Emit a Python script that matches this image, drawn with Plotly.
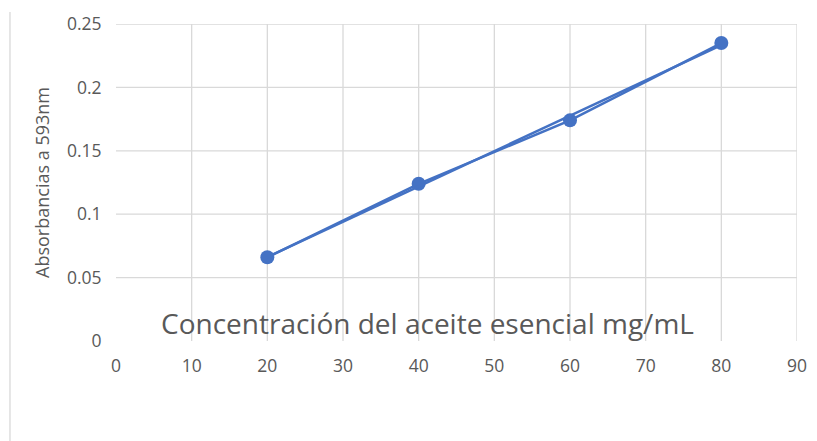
import numpy as np
import plotly.graph_objects as go

# Data
concentracion = [20, 40, 60, 80]
absorbancia = [0.066, 0.124, 0.174, 0.235]
x_ticks = [0, 10, 20, 30, 40, 50, 60, 70, 80, 90]
y_ticks = [0, 0.05, 0.1, 0.15, 0.2, 0.25]
y_tick_text = ["0", "0.05", "0.1", "0.15", "0.2", "0.25"]

BLUE = "#4472C4"
GRID = "#d9d9d9"
TXT = "#595959"
FONT = "Open Sans"

# Linear trendline (least squares, like Excel)
m, b = np.polyfit(concentracion, absorbancia, 1)
trend_x = [min(concentracion), max(concentracion)]
trend_y = [m * v + b for v in trend_x]

fig = go.Figure()
fig.add_trace(go.Scatter(x=concentracion, y=absorbancia, mode="lines+markers",
                         line=dict(color=BLUE, width=2.5),
                         marker=dict(color=BLUE, size=14), showlegend=False))
fig.add_trace(go.Scatter(x=trend_x, y=trend_y, mode="lines",
                         line=dict(color=BLUE, width=2.5), showlegend=False))

shapes = []
for xv in x_ticks[1:]:
    shapes.append(dict(type="line", xref="x", yref="y", x0=xv, x1=xv,
                       y0=y_ticks[0], y1=y_ticks[-1], layer="below",
                       line=dict(color=GRID, width=1.3)))
for yv in y_ticks[1:]:
    shapes.append(dict(type="line", xref="x", yref="y", x0=x_ticks[0], x1=x_ticks[-1],
                       y0=yv, y1=yv, layer="below",
                       line=dict(color=GRID, width=1.3)))
# chart-area left border
shapes.append(dict(type="line", xref="paper", yref="paper", x0=-0.1557, x1=-0.1557,
                   y0=1.038, y1=-0.32, line=dict(color=GRID, width=1.3)))

# page body has an 8px margin, so the figure is sized/offset to compensate
fig.update_layout(
    width=809, height=433,
    margin=dict(l=108, r=20, t=16, b=100),
    paper_bgcolor="white", plot_bgcolor="white",
    font=dict(family=FONT, color=TXT, size=14),
    shapes=shapes,
    xaxis=dict(range=[0, 90], tickvals=x_ticks, showgrid=False, zeroline=False,
               showline=False, ticks="outside", ticklen=9, tickcolor="rgba(0,0,0,0)",
               automargin=False,
               tickfont=dict(size=17.5, color=TXT, family=FONT)),
    yaxis=dict(range=[0, 0.25], tickvals=y_ticks, ticktext=y_tick_text,
               showgrid=False, zeroline=False, showline=False,
               ticks="outside", ticklen=10, tickcolor="rgba(0,0,0,0)",
               automargin="left",
               tickfont=dict(size=17.5, color=TXT, family=FONT),
               title=dict(text="Absorbancias a 593nm", standoff=12,
                          font=dict(size=18, color=TXT, family=FONT))),
    annotations=[dict(text="Concentración del aceite esencial mg/mL",
                      xref="paper", yref="paper", x=0.458, y=0.057,
                      xanchor="center", yanchor="middle", showarrow=False,
                      font=dict(size=28, color=TXT, family=FONT))],
)

fig.write_html("out.html")
